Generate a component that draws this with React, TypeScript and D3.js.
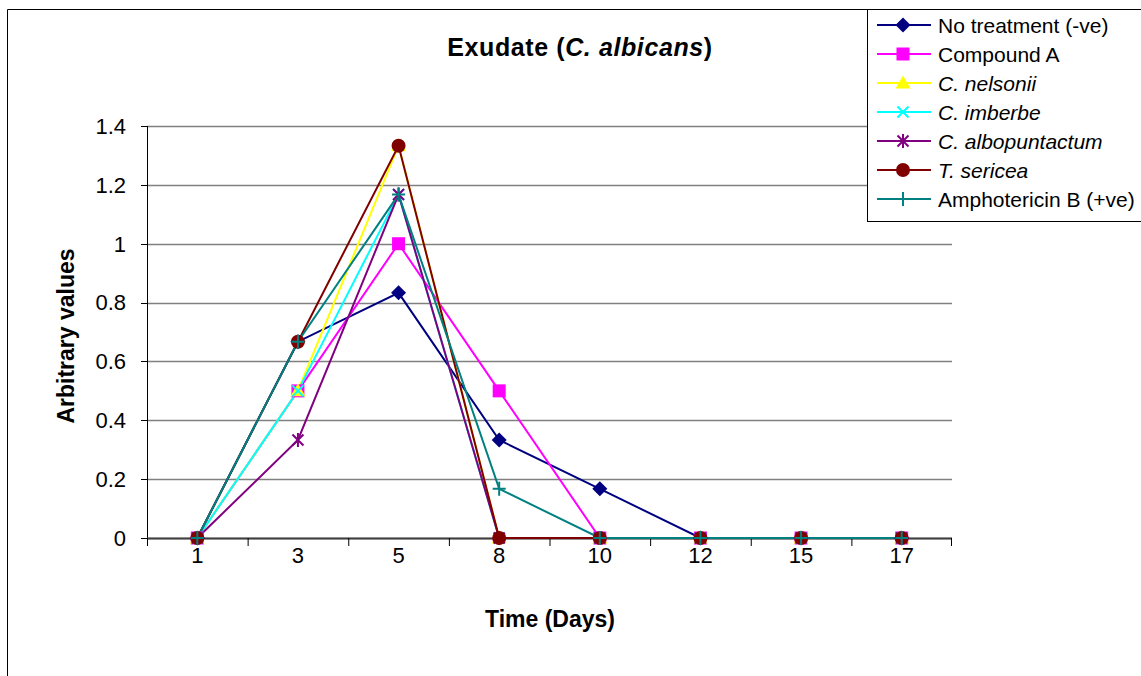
import React from "react";
import * as d3 from "d3";

const days = ["1", "3", "5", "8", "10", "12", "15", "17"];
const yTicks = [0, 0.2, 0.4, 0.6, 0.8, 1, 1.2, 1.4];

const noTreatment = [0, 0.667, 0.833, 0.333, 0.167, 0, 0, 0];
const compoundA = [0, 0.5, 1.0, 0.5, 0, 0, 0, 0];
const cNelsonii = [0, 0.5, 1.333, 0, 0, 0, 0, 0];
const cImberbe = [0, 0.5, 1.167, 0, 0, 0, 0, 0];
const cAlbopuntactum = [0, 0.333, 1.167, 0, 0, 0, 0, 0];
const tSericea = [0, 0.667, 1.333, 0, 0, 0, 0, 0];
const amphotericinB = [0, 0.667, 1.167, 0.167, 0, 0, 0, 0];

type Series = { name: string; italic: boolean; color: string; marker: string; values: number[] };

const series: Series[] = [
  { name: "No treatment (-ve)", italic: false, color: "#000080", marker: "diamond", values: noTreatment },
  { name: "Compound A", italic: false, color: "#FF00FF", marker: "square", values: compoundA },
  { name: "C. nelsonii", italic: true, color: "#FFFF00", marker: "triangle", values: cNelsonii },
  { name: "C. imberbe", italic: true, color: "#00FFFF", marker: "x", values: cImberbe },
  { name: "C. albopuntactum", italic: true, color: "#800080", marker: "star", values: cAlbopuntactum },
  { name: "T. sericea", italic: true, color: "#800000", marker: "circle", values: tSericea },
  { name: "Amphotericin B (+ve)", italic: false, color: "#008080", marker: "plus", values: amphotericinB },
];

const FONT = "Arial, 'Liberation Sans', sans-serif";

function Marker({ type, x, y, color }: { type: string; x: number; y: number; color: string }) {
  switch (type) {
    case "diamond":
      return <path d={`M${x},${y - 7.5}L${x + 7.5},${y}L${x},${y + 7.5}L${x - 7.5},${y}Z`} fill={color} />;
    case "square":
      return <rect x={x - 6.5} y={y - 6.5} width={13} height={13} fill={color} />;
    case "triangle":
      return <path d={`M${x},${y - 7.5}L${x + 7.5},${y + 5.5}L${x - 7.5},${y + 5.5}Z`} fill={color} />;
    case "x":
      return (
        <path d={`M${x - 5.5},${y - 5.5}L${x + 5.5},${y + 5.5}M${x - 5.5},${y + 5.5}L${x + 5.5},${y - 5.5}`} stroke={color} strokeWidth={2} />
      );
    case "star":
      return (
        <path
          d={`M${x - 5.5},${y - 5.5}L${x + 5.5},${y + 5.5}M${x - 5.5},${y + 5.5}L${x + 5.5},${y - 5.5}M${x},${y - 7}L${x},${y + 7}`}
          stroke={color}
          strokeWidth={2}
        />
      );
    case "circle":
      return <circle cx={x} cy={y} r={7} fill={color} />;
    case "plus":
      return <path d={`M${x - 6.5},${y}L${x + 6.5},${y}M${x},${y - 7}L${x},${y + 7}`} stroke={color} strokeWidth={2} />;
    default:
      return null;
  }
}

export default function App() {
  const W = 1141;
  const H = 676;
  const left = 147;
  const right = 952;
  const top = 126;
  const bottom = 538;

  const x = d3.scaleBand<string>().domain(days).range([left, right]);
  const y = d3.scaleLinear().domain([0, 1.4]).range([bottom, top]);
  const cx = (d: string) => (x(d) as number) + x.bandwidth() / 2;

  const line = d3
    .line<number>()
    .x((_, i) => cx(days[i]))
    .y((v) => y(v));

  const legendX = 867;
  const legendY = 9;
  const legendStep = 29;

  return (
    <svg width={W} height={H} style={{ position: "absolute", left: 0, top: 0, display: "block" }} fontFamily={FONT}>
      <rect x={0} y={0} width={W} height={H} fill="#fff" />
      {/* chart frame */}
      <path d={`M7.5,${H}L7.5,9.5L${W},9.5`} fill="none" stroke="#000" strokeWidth={1} />

      {/* gridlines */}
      {yTicks.map((t) => (
        <line key={t} x1={left} x2={right} y1={Math.round(y(t)) + 0.5} y2={Math.round(y(t)) + 0.5} stroke="#808080" strokeWidth={1.5} />
      ))}

      {/* y axis */}
      <line x1={left + 0.5} x2={left + 0.5} y1={top} y2={bottom} stroke="#000" strokeWidth={1} />
      {yTicks.map((t) => (
        <g key={"yt" + t}>
          <line x1={left - 6} x2={left} y1={Math.round(y(t)) + 0.5} y2={Math.round(y(t)) + 0.5} stroke="#000" />
          <text x={126} y={y(t)} dy="0.36em" textAnchor="end" fontSize={22} fill="#000">
            {d3.format("~g")(t)}
          </text>
        </g>
      ))}

      {/* x axis */}
      <line x1={left} x2={right} y1={bottom + 0.5} y2={bottom + 0.5} stroke="#404040" strokeWidth={2} />
      {days.map((d) => (
        <line key={"xt" + d} x1={(x(d) as number) + 0.5} x2={(x(d) as number) + 0.5} y1={bottom} y2={bottom + 8} stroke="#000" />
      ))}
      <line x1={right - 0.5} x2={right - 0.5} y1={bottom} y2={bottom + 8} stroke="#000" />
      {days.map((d) => (
        <text key={"xl" + d} x={cx(d)} y={563} textAnchor="middle" fontSize={22} fill="#000">
          {d}
        </text>
      ))}

      {/* series lines */}
      {series.map((s) => (
        <path key={"l" + s.name} d={line(s.values) as string} fill="none" stroke={s.color} strokeWidth={2} />
      ))}
      {series.map((s) => (
        <g key={"m" + s.name}>
          {s.values.map((v, i) => (
            <Marker key={i} type={s.marker} x={cx(days[i])} y={y(v)} color={s.color} />
          ))}
        </g>
      ))}

      {/* title */}
      <text x={580} y={56} textAnchor="middle" fontSize={25} fontWeight="bold" letterSpacing={0.6} fill="#000">
        Exudate (<tspan fontStyle="italic">C. albicans</tspan>)
      </text>

      {/* axis titles */}
      <text x={550} y={627} textAnchor="middle" fontSize={23} fontWeight="bold" fill="#000">
        Time (Days)
      </text>
      <text
        transform={`translate(74,336) rotate(-90)`}
        textAnchor="middle"
        fontSize={23}
        fontWeight="bold"
        fill="#000"
      >
        Arbitrary values
      </text>

      {/* legend */}
      <rect x={legendX + 0.5} y={legendY + 0.5} width={W - legendX + 5} height={212} fill="#fff" stroke="#000" strokeWidth={1} />
      {series.map((s, i) => {
        const ly = legendY + 16 + i * legendStep;
        return (
          <g key={"lg" + s.name}>
            <line x1={877} x2={931} y1={ly} y2={ly} stroke={s.color} strokeWidth={2} />
            <Marker type={s.marker} x={903} y={ly} color={s.color} />
            <text x={938} y={ly} dy="0.36em" fontSize={21} fontStyle={s.italic ? "italic" : "normal"} fill="#000">
              {s.name}
            </text>
          </g>
        );
      })}
    </svg>
  );
}
